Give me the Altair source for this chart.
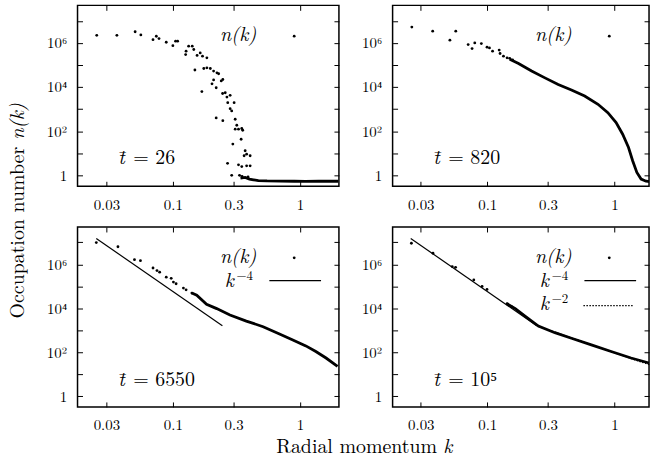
import altair as alt
import pandas as pd

FONT = "Latin Modern Roman"

# ---- panel (a): t = 26 ----
ka = [0.0252, 0.0363, 0.0505, 0.056, 0.0698, 0.0741, 0.0778, 0.0887, 0.100, 0.105, 0.109,
      0.126, 0.127, 0.133, 0.142, 0.146, 0.155, 0.164, 0.171, 0.185, 0.149, 0.175, 0.185,
      0.197, 0.209, 0.222, 0.229, 0.169, 0.203, 0.209, 0.240, 0.247, 0.219, 0.258, 0.266,
      0.246, 0.282, 0.270, 0.303, 0.282, 0.290, 0.219, 0.247, 0.309, 0.318, 0.328, 0.348,
      0.354, 0.309, 0.344, 0.296, 0.370, 0.380, 0.405, 0.363, 0.269, 0.328, 0.348, 0.380,
      0.405, 0.290, 0.334, 0.35, 0.39]
na = [2.2e6, 2.2e6, 3.2e6, 2.3e6, 1.4e6, 2.0e6, 1.56e6, 1.07e6, 7.5e5, 1.2e6, 1.2e6,
      2.96e5, 4.2e5, 7.1e5, 7.1e5, 5.0e5, 2.7e5, 3.5e5, 2.5e5, 2.1e5, 5.9e4, 6.9e4, 7.4e4,
      6.9e4, 5.3e4, 4.4e4, 4.0e4, 6.2e3, 1.4e4, 2.1e4, 1.9e4, 2.2e4, 9.3e3, 5.5e3, 3.5e3,
      5.1e3, 4.2e3, 1.95e3, 1.95e3, 1.05e3, 830, 400, 300, 347, 186, 123, 132,
      110, 123, 43, 26, 13, 9.1, 7.7, 7.7, 3.5, 3.0, 2.5, 2.7,
      2.7, 1.0, 1.0, 0.9, 0.85]
ka_floor = [0.34, 0.37, 0.40, 0.43, 0.47, 0.55, 0.7, 0.9, 1.1, 1.4, 1.7, 2.0]
na_floor = [0.75, 0.8, 0.68, 0.63, 0.58, 0.56, 0.55, 0.54, 0.53, 0.54, 0.54, 0.54]

# ---- panel (b): t = 820 ----
kb = [0.0255, 0.0372, 0.0508, 0.0565, 0.0707, 0.0759, 0.0797, 0.0898, 0.0995, 0.104,
      0.110, 0.124, 0.126, 0.134, 0.143, 0.150, 0.158]
nb = [5.2e6, 3.4e6, 1.32e6, 3.4e6, 8.4e5, 5.5e5, 1.0e6, 9.3e5, 6.4e5, 5.9e5,
      4.2e5, 4.7e5, 3.3e5, 2.5e5, 2.1e5, 2.0e5, 1.7e5]
kb_dense = [0.15, 0.176, 0.223, 0.284, 0.361, 0.459, 0.583, 0.742, 0.887, 1.03, 1.16,
            1.29, 1.39, 1.50, 1.62, 1.77, 1.90]
nb_dense = [1.8e5, 1.17e5, 5.3e4, 2.6e4, 1.3e4, 7.4e3, 3.9e3, 1.65e3, 690, 245, 73,
            18.3, 4.6, 1.36, 0.68, 0.54, 0.52]

# ---- panel (c): t = 6550 ----
kc = [0.0250, 0.0370, 0.0499, 0.0556, 0.0698, 0.075, 0.0787, 0.0887, 0.097, 0.101,
      0.106, 0.121, 0.127, 0.141]
nc = [9.8e6, 6.3e6, 1.62e6, 1.47e6, 6.8e5, 5.2e5, 4.4e5, 2.6e5, 2.3e5, 1.55e5,
      1.3e5, 8.3e4, 6.9e4, 4.9e4]
kc_dense = [0.141, 0.154, 0.184, 0.221, 0.281, 0.378, 0.512, 0.689, 0.877, 1.11, 1.33,
            1.60, 1.97]
nc_dense = [4.9e4, 3.9e4, 1.5e4, 9.6e3, 4.9e3, 2.6e3, 1.44e3, 670, 360, 193, 107,
            54, 22.6]

# ---- panel (d): t = 10^5 ----
kd = [0.0253, 0.0374, 0.053, 0.0563, 0.0783, 0.091, 0.0995, 0.143, 0.156]
nd = [9.1e6, 3.2e6, 7.9e5, 7.3e5, 1.95e5, 9.8e4, 7.2e4, 1.6e4, 1.15e4]
kd_dense = [0.143, 0.166, 0.198, 0.252, 0.340, 0.459, 0.658, 0.942, 1.35, 1.87]
nd_dense = [1.6e4, 9.6e3, 4.4e3, 1.55e3, 770, 430, 215, 107, 54, 32]

# ---- power laws ----
k4_k = [0.025, 0.245]
k4_n = [1.5e7, 1.6e3]
k2_k = [0.25, 1.9]
k2_n = [1.5e3, 26]

X_TICKS = [0.03, 0.1, 0.3, 1]
Y_TICKS = [1, 10, 100, 1000, 10000, 100000, 1000000, 10000000]
Y_DOMAIN = [0.32, 5e7]
XDOM_L = [0.0178, 2.02]
XDOM_R = [0.018, 1.87]

Y_LABELS = ("datum.value == 1 ? '1' : datum.value == 100 ? '10\u00b2' : "
            "datum.value == 10000 ? '10\u2074' : datum.value == 1000000 ? '10\u2076' : ''")

ONE = pd.DataFrame({"_": [0]})


def ax(orient, values, labels, **kw):
    return alt.Axis(orient=orient, values=values, labels=labels, offset=-5, tickSize=5,
                    tickWidth=1, tickColor="black", domain=False, grid=False, title=None,
                    labelFont=FONT, labelFontSize=15, labelColor="black",
                    labelOverlap=False, labelFlush=False, **kw)


def txt(s, x, y, size=20, italic=False, align="left", baseline="alphabetic", angle=None):
    kw = dict(text=s, font=FONT, fontSize=size, align=align, baseline=baseline, color="black")
    if italic:
        kw["fontStyle"] = "italic"
    if angle is not None:
        kw["angle"] = angle
    return alt.Chart(ONE).mark_text(**kw).encode(x=alt.value(x), y=alt.value(y))


def panel(xdom, w, h, pk, pn, dk, dn, tval, show4=False, show2=False, titles=False):
    xs = alt.Scale(type="log", domain=xdom, nice=False)
    ys = alt.Scale(type="log", domain=Y_DOMAIN, nice=False)
    pts = pd.DataFrame({"k": pk, "n": pn})
    dense = pd.DataFrame({"k": dk, "n": dn})
    layers = []
    layers.append(alt.Chart(pts).mark_circle(opacity=0).encode(
        x=alt.X("k:Q", scale=xs, axis=ax("top", X_TICKS, False)),
        y=alt.Y("n:Q", scale=ys, axis=ax("right", Y_TICKS, False))))
    layers.append(alt.Chart(dense).mark_line(color="black", strokeWidth=2.8, clip=True).encode(
        x=alt.X("k:Q", scale=xs, axis=None), y=alt.Y("n:Q", scale=ys, axis=None)))
    layers.append(alt.Chart(pts).mark_circle(color="black", size=8, opacity=1, clip=True).encode(
        x=alt.X("k:Q", scale=xs, axis=ax("bottom", X_TICKS, True, format="~g", labelPadding=11)),
        y=alt.Y("n:Q", scale=ys, axis=ax("left", Y_TICKS, True, labelExpr=Y_LABELS,
                                        labelPadding=11))))
    if show4:
        l4 = pd.DataFrame({"k": k4_k, "n": k4_n})
        layers.append(alt.Chart(l4).mark_line(color="black", strokeWidth=1.2).encode(
            x=alt.X("k:Q", scale=xs, axis=None), y=alt.Y("n:Q", scale=ys, axis=None)))
        layers.append(txt("k", 148, 60, italic=True))
        layers.append(txt("\u22124", 160, 53, size=13))
        layers.append(alt.Chart(ONE).mark_rule(color="black", strokeWidth=1.2).encode(
            x=alt.value(193), x2=alt.value(245), y=alt.value(54)))
    if show2:
        l2 = pd.DataFrame({"k": k2_k, "n": k2_n})
        layers.append(alt.Chart(l2).mark_line(color="black", strokeWidth=1.2,
                                              strokeDash=[1.5, 1.5]).encode(
            x=alt.X("k:Q", scale=xs, axis=None), y=alt.Y("n:Q", scale=ys, axis=None)))
        layers.append(txt("k", 148, 83, italic=True))
        layers.append(txt("\u22122", 160, 76, size=13))
        layers.append(alt.Chart(ONE).mark_rule(color="black", strokeWidth=1.2,
                                               strokeDash=[1.5, 1.5]).encode(
            x=alt.value(192), x2=alt.value(243), y=alt.value(79)))
    layers.append(txt("n(k)", 180, 36, italic=True, align="right"))
    layers.append(alt.Chart(ONE).mark_circle(color="black", size=8, opacity=1).encode(
        x=alt.value(218), y=alt.value(31)))
    layers.append(txt("t\u0304", 41, 160, italic=True))
    layers.append(txt("= " + tval, 56, 160))
    if titles:
        layers.append(txt("Occupation number", -54, 92, size=20, angle=270))
        layers.append(txt("n(k)", -54, -88, size=20, italic=True, angle=270))
        layers.append(txt("Radial momentum", 200, 227, size=20))
        layers.append(txt("k", 368, 227, size=20, italic=True))
    return alt.layer(*layers).resolve_axis(x="independent", y="independent").properties(
        width=w, height=h)


pa = panel(XDOM_L, 263, 182, ka, na, ka_floor, na_floor, "26")
pb = panel(XDOM_R, 258, 182, kb, nb, kb_dense, nb_dense, "820")
pc = panel(XDOM_L, 263, 181, kc, nc, kc_dense, nc_dense, "6550", show4=True, titles=True)
pd_ = panel(XDOM_R, 258, 181, kd, nd, kd_dense, nd_dense, "10\u2075", show4=True, show2=True)

chart = alt.concat(pa, pb, pc, pd_, columns=2, spacing={"row": 41, "column": 54},
                   bounds="flush").properties(
    padding={"left": 7, "top": 2, "right": 0, "bottom": 0}, background="white"
).configure_view(stroke="black", strokeWidth=1.5)

chart.save("out.html", embed_options={"renderer": "svg", "actions": False})
